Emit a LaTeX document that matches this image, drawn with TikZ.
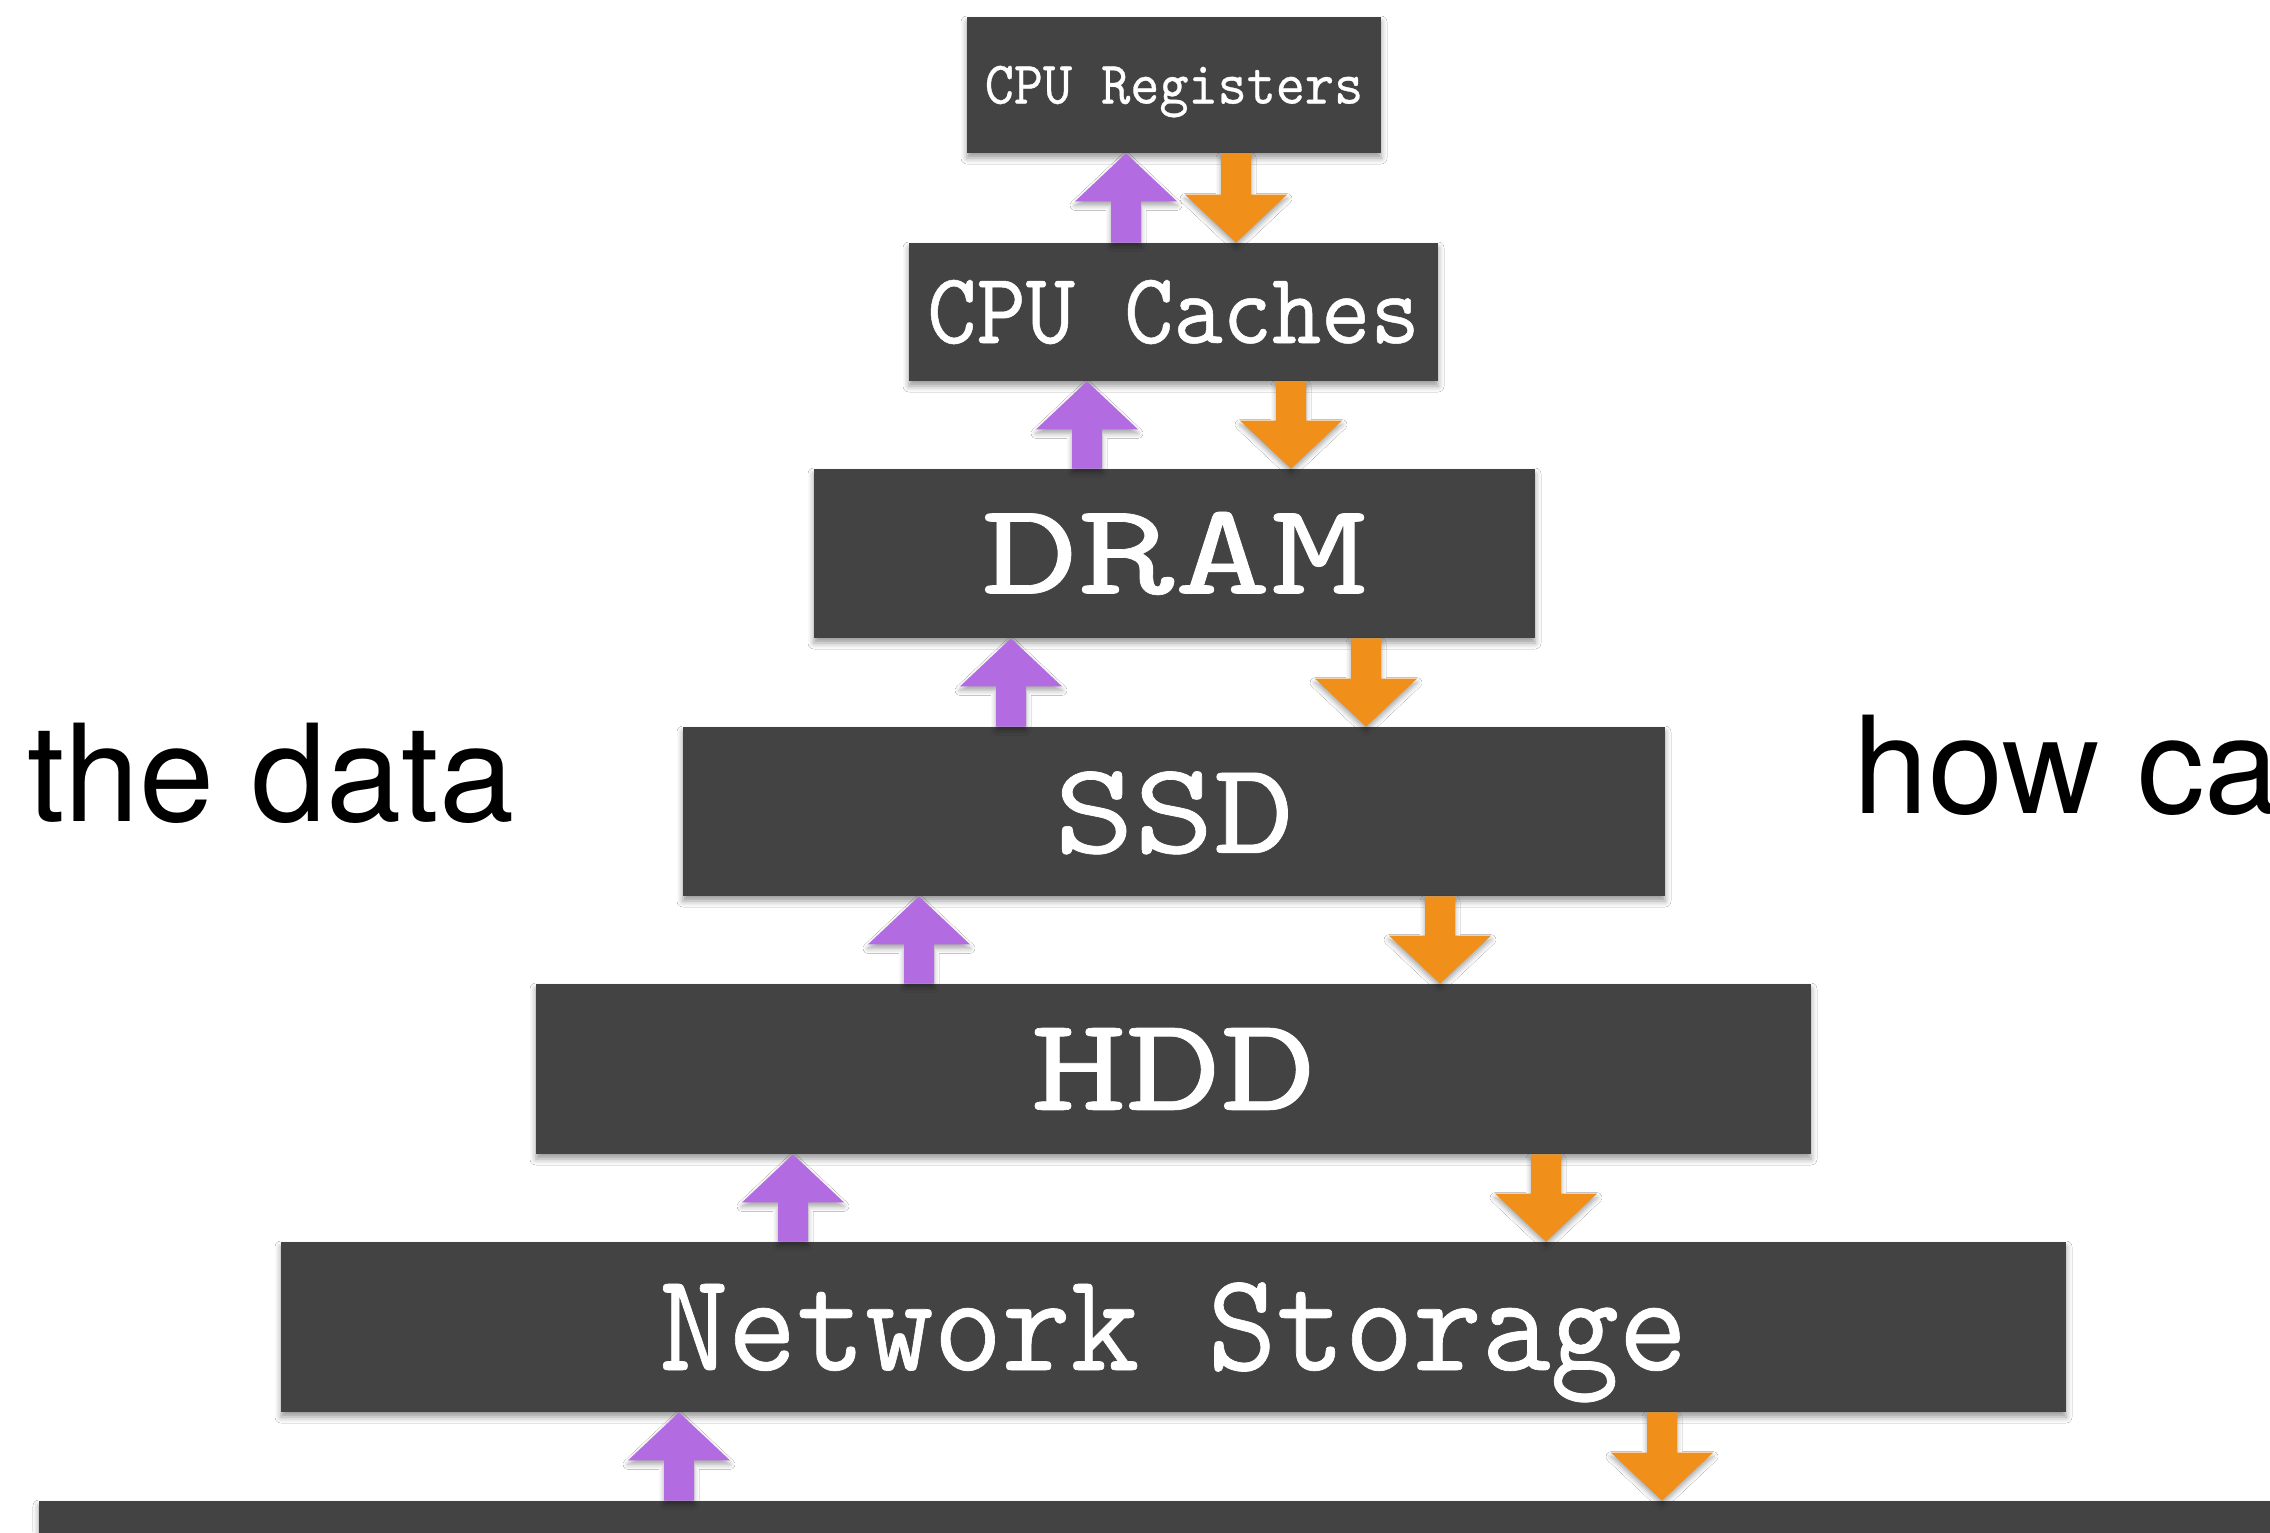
\documentclass[tikz,border=0pt]{standalone}
\usepackage{fontspec}
\newfontfamily\sidefont{TeX Gyre Heros}
\newfontfamily\tierfam[FakeBold=0.5]{lmmono10-regular.otf}
\usetikzlibrary{calc,shadows.blur}
\definecolor{boxgray}{RGB}{67,67,67}
\definecolor{uppurple}{RGB}{179,107,226}
\definecolor{downorange}{RGB}{240,144,26}
% #1 = size (pt)
\newcommand\tierfont[1]{\tierfam\fontsize{#1pt}{#1pt}\selectfont}
\tikzset{
  tier/.style={fill=boxgray, draw=none, inner sep=0pt, rectangle,
    blur shadow={shadow xshift=0pt, shadow yshift=-2.5pt, shadow blur radius=3pt, shadow opacity=40}},
  tiertext/.style={text=white, inner sep=0pt, text depth=0pt},
  uparrow/.style={fill=uppurple,
    blur shadow={shadow xshift=0pt, shadow yshift=-2pt, shadow blur radius=2.5pt, shadow opacity=35}},
  downarrow/.style={fill=downorange,
    blur shadow={shadow xshift=0pt, shadow yshift=-2pt, shadow blur radius=2.5pt, shadow opacity=35}},
  sidetext/.style={inner sep=0pt, anchor=base west, font=\sidefont\fontsize{67.5pt}{80pt}\selectfont}
}
% #1 = x (px), #2 = upper node, #3 = lower node
\newcommand\uparr[3]{%
  \fill[uparrow] (#1-15,0 |- #3.north) -- ($(#1-15,0 |- #2.south)+(0,48)$)
    -- ($(#1-51,0 |- #2.south)+(0,48)$) -- (#1,0 |- #2.south)
    -- ($(#1+51,0 |- #2.south)+(0,48)$) -- ($(#1+15,0 |- #2.south)+(0,48)$)
    -- (#1+15,0 |- #3.north) -- cycle;}
\newcommand\downarr[3]{%
  \fill[downarrow] (#1-15,0 |- #2.south) -- ($(#1-15,0 |- #3.north)+(0,-48)$)
    -- ($(#1-51,0 |- #3.north)+(0,-48)$) -- (#1,0 |- #3.north)
    -- ($(#1+51,0 |- #3.north)+(0,-48)$) -- ($(#1+15,0 |- #3.north)+(0,-48)$)
    -- (#1+15,0 |- #2.south) -- cycle;}
\begin{document}
\begin{tikzpicture}[x=0.5pt, y=-0.5pt]
\useasboundingbox (0,0) rectangle (2270,1532);
\clip (0,0) rectangle (2270,1532);
\fill[white] (0,0) rectangle (2270,1532);

% tiers
\node[tier, minimum width=207pt, minimum height=68pt] (reg) at (1174,85) {};
\node[tier, minimum width=264.5pt, minimum height=69pt] (cache) at (1173.5,312) {};
\node[tier, minimum width=360.5pt, minimum height=84.5pt] (dram) at (1174.5,553.5) {};
\node[tier, minimum width=491pt, minimum height=84.5pt] (ssd) at (1174,811.5) {};
\node[tier, minimum width=637.5pt, minimum height=85pt] (hdd) at (1173.5,1069) {};
\node[tier, minimum width=892.5pt, minimum height=85pt] (net) at (1173.5,1327) {};
\node[tier, minimum width=1140.5pt, minimum height=29.5pt] (base) at (1179.5,1530.5) {};

% labels
\node[tiertext, font=\tierfont{30.3}, text height=18.5pt, xscale=0.915] (regt) at (reg.center) {CPU Registers};
\node[tiertext, font=\tierfont{50.7}, text height=31pt, xscale=0.925] (cachet) at (cache.center) {CPU Caches};
\node[tiertext, font=\tierfont{65.5}, text height=40pt, xscale=1.40] (dramt) at (dram.center) {DRAM};
\node[tiertext, font=\tierfont{65.5}, text height=40pt, xscale=1.16] (ssdt) at ([yshift=-0.7pt]ssd.center) {SSD};
\node[tiertext, font=\tierfont{67}, text height=40.9pt, xscale=1.35] (hddt) at (hdd.center) {HDD};
\node[tiertext, font=\tierfont{70.4}, text height=43pt, xscale=0.927] (nett) at (net.center) {Network Storage};

% arrows
\uparr{1126}{reg}{cache}
\downarr{1236}{reg}{cache}
\uparr{1087}{cache}{dram}
\downarr{1291}{cache}{dram}
\uparr{1011}{dram}{ssd}
\downarr{1366}{dram}{ssd}
\uparr{919}{ssd}{hdd}
\downarr{1440}{ssd}{hdd}
\uparr{793}{hdd}{net}
\downarr{1546}{hdd}{net}
\uparr{679}{net}{base}
\downarr{1662}{net}{base}

% side texts
\node[sidetext] (left) at (27,821) {the data};
\node[sidetext] (right) at (1853,813) {how ca};
\end{tikzpicture}
\end{document}
